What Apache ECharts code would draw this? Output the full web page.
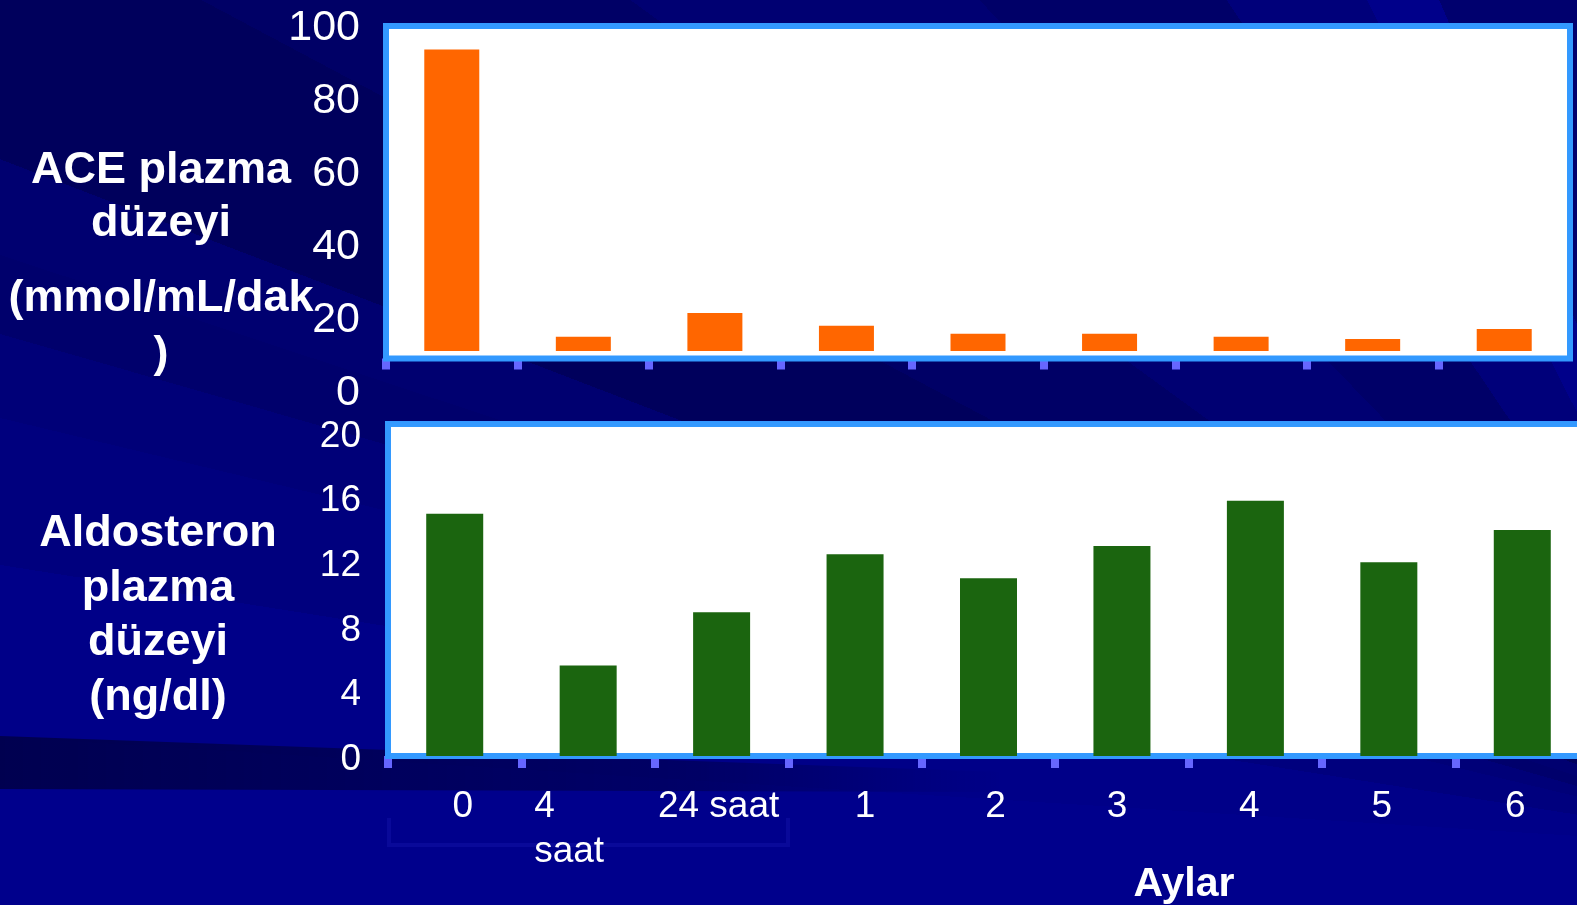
<!DOCTYPE html>
<html>
<head>
<meta charset="utf-8">
<script src="https://cdn.jsdelivr.net/npm/echarts@6/dist/echarts.min.js"></script>
<style>
  html, body { margin: 0; padding: 0; }
  body {
    width: 1577px; height: 905px; overflow: hidden;
    /* fan of navy rays spreading from a point off the lower right */
    background: conic-gradient(from 0deg at 1800px 850px,
      #00008c 0deg 273.6deg,
      #000088 273.6deg 279deg,
      #00007e 279deg 283.5deg,
      #000078 283.5deg 286deg,
      #00006c 286deg 288.3deg,
      #000070 288.3deg 291deg,
      #00005c 291deg 298deg,
      #000066 298deg 306deg,
      #000072 306deg 316deg,
      #000068 316deg 326deg,
      #00007a 326deg 333deg,
      #00008a 333deg 337deg,
      #00006e 337deg 360deg);
  }
  #chart { width: 1577px; height: 905px; }
</style>
</head>
<body>
<div id="chart"></div>
<script>
// Sampling times along the x axis
const categories = ['0', '4 saat', '24 saat', '1', '2', '3', '4', '5', '6'];
// Plasma ACE level (mmol/mL/dak)
const aceValues = [93.3, 14.7, 21.2, 17.7, 15.5, 15.5, 14.7, 14.1, 16.8];
// Plasma aldosterone level (ng/dl)
const aldosteronValues = [15.0, 5.6, 8.9, 12.5, 11.0, 13.0, 15.8, 12.0, 14.0];
// Tick scales of the two value axes
const aceScale = { min: 0, max: 100, step: 20 };
const aldoScale = { min: 0, max: 20, step: 4 };

// Small horizontal nudges (px) of the time labels relative to their bars
const labelShift = [8, 0, -3, 10, 7, -5, -6, -7, -7];

const FONT = "'Liberation Sans', Arial, Helvetica, sans-serif";

// Panel geometry (pixels)
const ACE_ZERO_Y = 390.5, ACE_FULL_Y = 25;          // rows of the 0 and 100 labels
const ACE_FRAME_TOP = 26, ACE_FRAME_BOTTOM = 358.5; // white plot frame
const ACE_BAR_BOTTOM = 351;                          // bars stop above the frame edge
const pxPerAce = (ACE_ZERO_Y - ACE_FULL_Y) / (aceScale.max - aceScale.min);
const aceBarMin = (ACE_ZERO_Y - ACE_BAR_BOTTOM) / pxPerAce;
const aceBarMax = (ACE_ZERO_Y - ACE_FRAME_TOP) / pxPerAce;

const ALDO_TOP_Y = 433, ALDO_FRAME_TOP = 424, ALDO_FRAME_BOTTOM = 756;
const aldoAxisMax = aldoScale.max * (ALDO_FRAME_BOTTOM - ALDO_FRAME_TOP) / (ALDO_FRAME_BOTTOM - ALDO_TOP_Y);

// Tick marks sit on the boundaries between categories (no closing tick on the right)
const boundaryTicks = categories.map(function (_, i) { return i; });

const tickStyle = { color: '#6666ff', width: 8 };
const hiddenValue = { type: 'value', show: false, splitLine: { show: false } };

// Rich styles for the time labels: one per label carrying its nudge
const labelRich = {
  a: { color: '#ffffff', fontSize: 37, fontFamily: FONT, lineHeight: 45, align: 'left' },
  gap: { width: 38, fontSize: 37, lineHeight: 45, align: 'left' }
};
labelShift.forEach(function (d, i) {
  labelRich['s' + i] = {
    color: '#ffffff', fontSize: 37, fontFamily: FONT, lineHeight: 45,
    padding: d >= 0 ? [0, 0, 0, 2 * d] : [0, -2 * d, 0, 0]
  };
});

const chart = echarts.init(document.getElementById('chart'), null, { renderer: 'canvas' });

chart.setOption({
  backgroundColor: 'transparent',
  animation: false,
  grid: [
    // 0: ACE tick labels
    { left: 386, top: ACE_FULL_Y, width: 1184, height: ACE_ZERO_Y - ACE_FULL_Y, outerBoundsMode: 'none' },
    // 1: ACE white frame
    { left: 386, top: ACE_FRAME_TOP, width: 1184, height: ACE_FRAME_BOTTOM - ACE_FRAME_TOP,
      outerBoundsMode: 'none',
      show: true, backgroundColor: '#ffffff', borderColor: '#3399ff', borderWidth: 6 },
    // 2: ACE bars
    { left: 386, top: ACE_FRAME_TOP, width: 1184, height: ACE_BAR_BOTTOM - ACE_FRAME_TOP, outerBoundsMode: 'none' },
    // 3: aldosterone frame and bars (runs past the right edge)
    { left: 388, top: ALDO_FRAME_TOP, width: 1201, height: ALDO_FRAME_BOTTOM - ALDO_FRAME_TOP,
      outerBoundsMode: 'none',
      show: true, backgroundColor: '#ffffff', borderColor: '#3399ff', borderWidth: 6 }
  ],
  xAxis: [
    { gridIndex: 0, type: 'category', data: categories, show: false },
    // ticks drawn beneath the frame so they peek out below its border
    { gridIndex: 1, type: 'value', min: 0, max: categories.length, z: -1,
      axisLine: { show: false }, splitLine: { show: false },
      axisTick: { show: true, length: 11, lineStyle: tickStyle, customValues: boundaryTicks },
      axisLabel: { show: false } },
    { gridIndex: 2, type: 'category', data: categories, show: false },
    { gridIndex: 3, type: 'category', data: categories, z: -1,
      axisLine: { show: false },
      axisTick: { show: true, length: 12, lineStyle: tickStyle },
      axisLabel: {
        interval: 0, color: '#ffffff', fontSize: 37, fontFamily: FONT,
        margin: 28, lineHeight: 45,
        formatter: function (v, i) {
          if (v.indexOf(' saat') > 0 && v.length < 7) {
            const parts = v.split(' ');
            return '{a|' + parts[0] + '}\n{a|' + parts[1] + '}{gap| }';
          }
          return '{s' + i + '|' + v + '}';
        },
        rich: labelRich
      } }
  ],
  yAxis: [
    { gridIndex: 0, type: 'value', min: aceScale.min, max: aceScale.max, interval: aceScale.step,
      axisLine: { show: false }, axisTick: { show: false }, splitLine: { show: false },
      axisLabel: { color: '#ffffff', fontSize: 43, fontFamily: FONT, margin: 26,
        verticalAlign: 'top', lineHeight: 6 } },
    Object.assign({ gridIndex: 1 }, hiddenValue),
    Object.assign({ gridIndex: 2, min: aceBarMin, max: aceBarMax }, hiddenValue),
    { gridIndex: 3, type: 'value', min: aldoScale.min, max: aldoAxisMax, interval: aldoScale.step,
      axisLine: { show: false }, axisTick: { show: false }, splitLine: { show: false },
      axisLabel: { color: '#ffffff', fontSize: 37, fontFamily: FONT, margin: 27,
        verticalAlign: 'top', lineHeight: 7,
        formatter: function (v) {
          return (v <= aldoScale.max && Math.abs(v % aldoScale.step) < 1e-6) ? String(v) : '';
        } } }
  ],
  series: [
    { name: 'ACE', type: 'bar', xAxisIndex: 2, yAxisIndex: 2, data: aceValues,
      barWidth: 55, clip: true, itemStyle: { color: '#ff6600' } },
    { name: 'Aldosteron', type: 'bar', xAxisIndex: 3, yAxisIndex: 3, data: aldosteronValues,
      barWidth: 57, clip: true, itemStyle: { color: '#1b650f' } }
  ],
  graphic: [
    // darker ray across the lower left, fading out to the right
    { type: 'polygon', z: -10, silent: true,
      shape: { points: [[0, 736], [1000, 772], [1000, 792], [0, 789]] },
      style: { fill: new echarts.graphic.LinearGradient(0, 0, 1, 0, [
        { offset: 0, color: 'rgba(0,0,60,0.75)' },
        { offset: 0.7, color: 'rgba(0,0,60,0.45)' },
        { offset: 1, color: 'rgba(0,0,60,0)' }]) } },
    // faint outline of the label cell under the hour labels
    { type: 'polyline', z: -9, silent: true,
      shape: { points: [[389, 818], [389, 845], [788, 845], [788, 818]] },
      style: { stroke: 'rgba(40,40,200,0.22)', lineWidth: 4, fill: null } },
    { type: 'text', x: 161, y: 197, silent: true,
      style: { text: 'ACE plazma\ndüzeyi', fill: '#ffffff', fontSize: 45, fontWeight: 'bold',
        fontFamily: FONT, align: 'center', verticalAlign: 'middle', lineHeight: 53 } },
    { type: 'text', x: 161, y: 327, silent: true,
      style: { text: '(mmol/mL/dak\n)', fill: '#ffffff', fontSize: 45, fontWeight: 'bold',
        fontFamily: FONT, align: 'center', verticalAlign: 'middle', lineHeight: 56 } },
    { type: 'text', x: 158, y: 615.5, silent: true,
      style: { text: 'Aldosteron\nplazma\ndüzeyi\n(ng/dl)', fill: '#ffffff', fontSize: 45, fontWeight: 'bold',
        fontFamily: FONT, align: 'center', verticalAlign: 'middle', lineHeight: 54.5 } },
    { type: 'text', x: 1184, y: 885, silent: true,
      style: { text: 'Aylar', fill: '#ffffff', fontSize: 41, fontWeight: 'bold',
        fontFamily: FONT, align: 'center', verticalAlign: 'middle' } }
  ]
});
</script>
</body>
</html>
